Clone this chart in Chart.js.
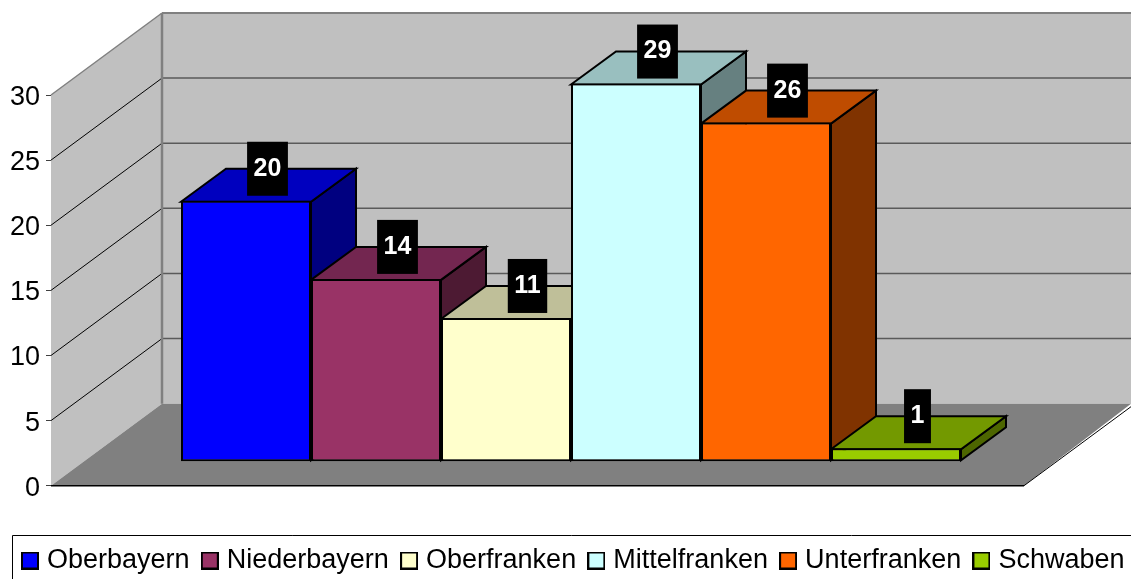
<!DOCTYPE html>
<html>
<head>
<meta charset="utf-8">
<style>
  body { margin: 0; background: #fff; }
  canvas { display: block; }
</style>
<script src="https://cdn.jsdelivr.net/npm/chart.js@4/dist/chart.umd.min.js"></script>
</head>
<body>
<canvas id="regions" width="1131" height="579"></canvas>
<script>
const categories = ['Bezirke'];
const regions = ['Oberbayern', 'Niederbayern', 'Oberfranken', 'Mittelfranken', 'Unterfranken', 'Schwaben'];
const values = [20, 14, 11, 29, 26, 1];
const tickValues = [0, 5, 10, 15, 20, 25, 30];
const frontColors = ['#0000FF', '#993366', '#FFFFCC', '#CCFFFF', '#FF6600', '#99CC00'];
const topColors = ['#0000BF', '#732650', '#BFBF99', '#99BFBF', '#BF4C00', '#739900'];
const sideColors = ['#000080', '#4D1A33', '#808066', '#668080', '#803300', '#4D6600'];

// how far the bars sit in front of the back wall, and the wall itself
const barDepth = { x: 45, y: -33 };
const wallDepth = { x: 111, y: -82 };
const floorFrontRight = 1024;
const canvasRight = 1131;

function poly(ctx, pts, fill, stroke, lw) {
  ctx.beginPath();
  pts.forEach((p, i) => i ? ctx.lineTo(p[0], p[1]) : ctx.moveTo(p[0], p[1]));
  ctx.closePath();
  if (fill) { ctx.fillStyle = fill; ctx.fill(); }
  if (stroke) { ctx.strokeStyle = stroke; ctx.lineWidth = lw; ctx.stroke(); }
}

function line(ctx, x1, y1, x2, y2, color, lw) {
  ctx.beginPath();
  ctx.moveTo(x1, y1);
  ctx.lineTo(x2, y2);
  ctx.strokeStyle = color;
  ctx.lineWidth = lw;
  ctx.stroke();
}

// legend swatch as a small picture, so the text can sit closer than chart.js normally puts it
function swatch(color) {
  const c = document.createElement('canvas');
  c.width = 18;
  c.height = 18;
  const g = c.getContext('2d');
  g.fillStyle = color;
  g.fillRect(1, 1, 16, 16);
  g.strokeStyle = '#000000';
  g.lineWidth = 2;
  g.strokeRect(1, 1, 16, 16);
  return c;
}

const box3d = {
  id: 'box3d',
  beforeDatasetsDraw(chart) {
    const ctx = chart.ctx;
    const y = chart.scales.y;
    const left = chart.chartArea.left;
    const top = y.getPixelForValue(30);
    const bottom = y.getPixelForValue(0);
    const bx = left + wallDepth.x;
    const dy = wallDepth.y;
    ctx.save();
    // back wall, left wall, floor
    poly(ctx, [[bx, top + dy], [canvasRight, top + dy], [canvasRight, bottom + dy], [bx, bottom + dy]], '#C0C0C0');
    poly(ctx, [[left, top], [bx, top + dy], [bx, bottom + dy], [left, bottom]], '#C0C0C0');
    poly(ctx, [[left, bottom], [bx, bottom + dy], [canvasRight, bottom + dy], [floorFrontRight, bottom]], '#808080');
    // gridlines on both walls
    tickValues.slice(1).forEach(v => {
      const py = y.getPixelForValue(v);
      if (v < 30) {
        line(ctx, left, py, bx, py + dy, '#000000', 1);
        line(ctx, bx, py + dy, canvasRight, py + dy, '#5A5A5A', 1.5);
      }
    });
    // wall edges
    line(ctx, left, top, bx, top + dy, '#808080', 1.5);
    line(ctx, bx, top + dy, canvasRight, top + dy, '#808080', 2);
    line(ctx, bx, top + dy, bx, bottom + dy, '#808080', 2.5);
    line(ctx, left, bottom, floorFrontRight, bottom, '#000000', 1.5);
    line(ctx, floorFrontRight, bottom, canvasRight, bottom + dy + 3, '#000000', 1);
    // side and top faces of the bars, left to right, fronts come from the library
    chart.data.datasets.forEach((ds, i) => {
      const bar = chart.getDatasetMeta(i).data[0];
      const l = bar.x - bar.width / 2;
      const r = bar.x + bar.width / 2;
      const t = bar.y + 1;
      const b = bar.base - 1;
      poly(ctx, [[r, t], [r + barDepth.x, t + barDepth.y], [r + barDepth.x, b + barDepth.y], [r, b]], sideColors[i], '#000000', 2);
      poly(ctx, [[l, t], [l + barDepth.x, t + barDepth.y], [r + barDepth.x, t + barDepth.y], [r, t]], topColors[i], '#000000', 2);
    });
    ctx.restore();
  },
  afterDatasetsDraw(chart) {
    const ctx = chart.ctx;
    ctx.save();
    ctx.font = 'bold 25px "Liberation Sans"';
    ctx.textAlign = 'center';
    ctx.textBaseline = 'middle';
    chart.data.datasets.forEach((ds, i) => {
      const bar = chart.getDatasetMeta(i).data[0];
      const text = String(ds.data[0]);
      const w = ctx.measureText(text).width + 13;
      const cx = bar.x + barDepth.x / 2 - 1;
      const cy = bar.y - 32;
      ctx.fillStyle = '#000000';
      ctx.fillRect(cx - w / 2, cy - 27, w, 54);
      ctx.fillStyle = '#FFFFFF';
      ctx.fillText(text, cx, cy);
    });
    ctx.restore();
  },
  afterDraw(chart) {
    // frame round the legend, runs off the picture on the right and at the bottom
    const ctx = chart.ctx;
    ctx.save();
    line(ctx, 12.5, 535.5, canvasRight, 535.5, '#000000', 1);
    line(ctx, 12.5, 535.5, 12.5, 579, '#000000', 1);
    ctx.restore();
  }
};

new Chart(document.getElementById('regions'), {
  type: 'bar',
  data: {
    labels: categories,
    datasets: regions.map((name, i) => ({
      label: name,
      data: [values[i]],
      backgroundColor: frontColors[i],
      borderColor: '#000000',
      borderWidth: 2,
      borderSkipped: false,
      yAxisID: 'yBars',
      clip: false
    }))
  },
  options: {
    responsive: false,
    animation: false,
    categoryPercentage: 0.75,
    barPercentage: 1,
    layout: { padding: { top: 95, left: 9.8, right: -20, bottom: -5 } },
    plugins: {
      tooltip: { enabled: false },
      legend: {
        position: 'bottom',
        align: 'start',
        labels: {
          usePointStyle: true,
          pointStyleWidth: 7,
          padding: 16.7,
          color: '#000000',
          font: { family: '"Liberation Sans"', size: 27 },
          generateLabels(chart) {
            return regions.map((name, i) => ({
              text: name,
              datasetIndex: i,
              pointStyle: swatch(frontColors[i]),
              fontColor: '#000000',
              lineWidth: 0
            }));
          }
        }
      }
    },
    scales: {
      x: {
        grid: { display: false },
        border: { display: false },
        ticks: { display: false },
        afterFit(scale) { scale.height = 44.6; }
      },
      y: {
        min: 0,
        max: 30,
        afterFit(scale) { scale.width = 41.2; },
        afterBuildTicks(scale) { scale.ticks = tickValues.map(v => ({ value: v })); },
        grid: { drawOnChartArea: false, tickLength: 5, color: '#404040' },
        border: { color: '#404040', width: 1 },
        ticks: {
          padding: 6,
          color: '#000000',
          // an empty first line nudges the digits down onto their tick mark
          callback: v => ['', String(v)],
          font: { family: '"Liberation Sans"', size: 27, lineHeight: 0.19 }
        }
      },
      // bars stand forward on the floor, same units as y but shifted down the page
      yBars: {
        position: 'right',
        min: -24.5 / 13.033,
        max: 366.5 / 13.033,
        afterFit(scale) { scale.width = 60; },
        grid: { display: false },
        border: { display: false },
        ticks: { display: false }
      }
    }
  },
  plugins: [box3d]
});
</script>
</body>
</html>
